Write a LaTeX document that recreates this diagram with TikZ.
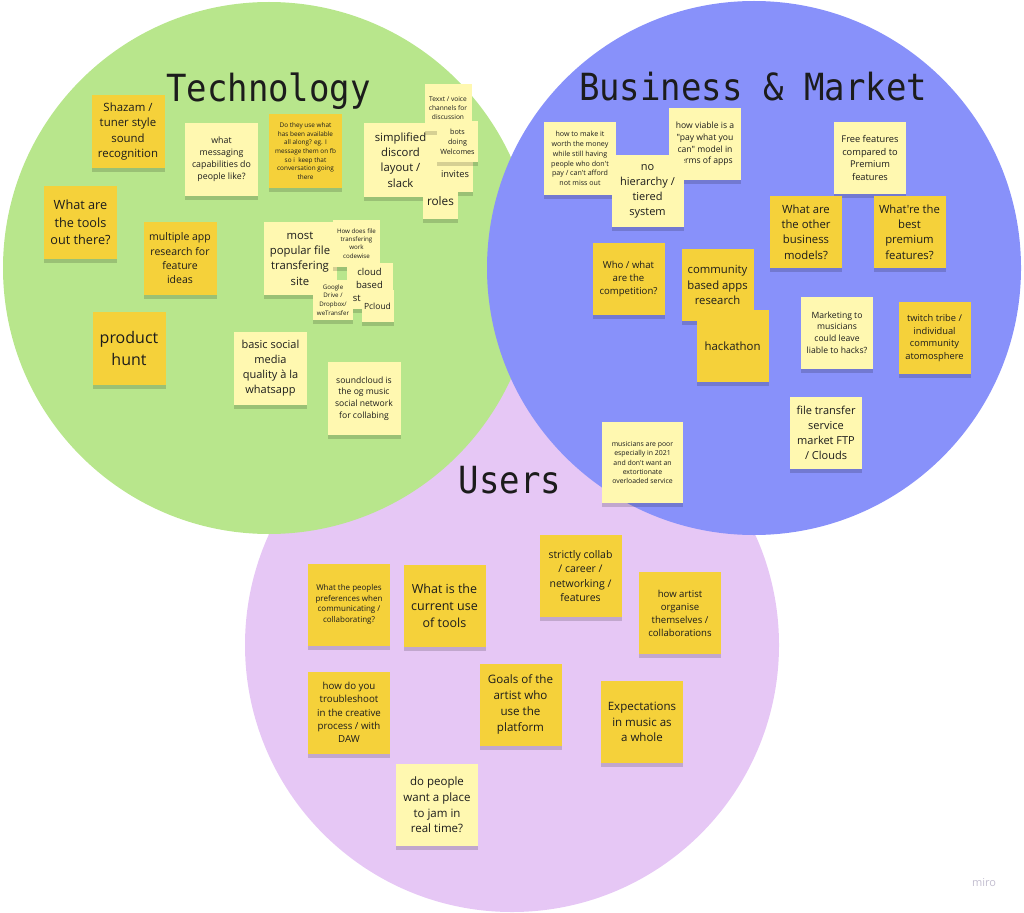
\documentclass[tikz,border=0pt]{standalone}
\usepackage{fontspec}
\usepackage{graphicx}
\usepackage{tikz}
\usetikzlibrary{shadows}
\newfontfamily\notefont{Open Sans}
\newfontfamily\headfont{DejaVu Sans Mono}
\definecolor{techgreen}{HTML}{B8E68C}
\definecolor{bizblue}{HTML}{8891FA}
\definecolor{userpurple}{HTML}{E6C7F5}
\definecolor{noteyellow}{HTML}{F5D13A}
\definecolor{notepale}{HTML}{FFF8B0}
\definecolor{ink}{HTML}{1C1C1C}
\definecolor{mirogray}{HTML}{C2BDCF}
\newcommand{\nsz}[2]{\notefont\fontsize{#1pt}{#2pt}\selectfont}

\begin{document}
\begin{tikzpicture}[x=1pt,y=-1pt,
  note/.style={minimum width=#1pt,minimum height=#1pt,inner sep=0pt,align=center,text=ink,
    drop shadow={shadow xshift=0pt,shadow yshift=-4pt,opacity=0.16,fill=black}},
  yel/.style={note=#1,fill=noteyellow},
  pale/.style={note=#1,fill=notepale},
  headline/.style={anchor=base,text=ink,font=\headfont\fontsize{34pt}{34pt}\selectfont}]
\useasboundingbox (0,0) rectangle (1024,912);
\fill[userpurple] (512,645) circle[radius=267pt];
\fill[techgreen] (269,268) circle[radius=266pt];
\fill[bizblue] (754,268) circle[radius=267pt];
\node[headline] (techtitle) at (268.5,102) {\scalebox{1}[1.1]{Technology}};
\node[headline] (biztitle) at (753,101) {\scalebox{1}[1.1]{Business \& Market}};
\node[headline] (usertitle) at (510,493) {\scalebox{1}[1.1]{Users}};
% technology
\node[yel=73,font=\nsz{11.4}{15.5}] (shazam) at (128,131.5) {Shazam /\\tuner style\\sound\\recognition};
\node[yel=73,font=\nsz{12.7}{17.3}] (tools) at (80.5,222.5) {What are\\the tools\\out there?};
\node[pale=73,font=\nsz{8.8}{12}] (messaging) at (221.5,159.5) {what\\messaging\\capabilities do\\people like?};
\node[yel=73,font=\nsz{10.5}{14.3}] (multiapp) at (180,258.5) {multiple app\\research for\\feature\\ideas};
\node[yel=73,font=\nsz{16}{21.7}] (hunt) at (129,348.5) {product\\hunt};
\node[yel=73,font=\nsz{6.4}{8.7}] (alongfb) at (305.5,151) {Do they use what\\has been available\\all along? eg. I\\message them on fb\\so i~ keep that\\conversation going\\there};
\node[pale=73,font=\nsz{11.3}{15.3}] (discord) at (400.5,160) {simplified\\discord\\layout /\\slack};
\node[pale=47,font=\nsz{6.6}{9}] (channels) at (448,108) {Texxt / voice\\channels for\\discussion};
\node[pale=36,font=\nsz{9.3}{12}] (invites) at (455,174) {invites};
\node[pale=41,font=\nsz{7.2}{9.7}] (bots) at (457.5,142) {bots\\doing\\Welcomes};
\node[pale=35,font=\nsz{11.8}{15}] (roles) at (440.5,201) {roles};
\node[pale=73,font=\nsz{11.3}{15.3}] (popular) at (300,258.5) {most\\popular file\\transfering\\site};
\node[pale=47,font=\nsz{6.2}{8.3}] (codewise) at (356.5,243.5) {How does file\\transfering\\work\\codewise};
\node[pale=46,font=\nsz{9.5}{12.8}] (cloud) at (369.5,286) {cloud\\based\\st\phantom{orage}};
\node[pale=40,font=\nsz{6.2}{8.7}] (gdrive) at (333,300) {Google\\Drive /\\Dropbox/\\weTransfer};
\node[pale=32,font=\nsz{8.5}{11}] (pcloud) at (377.5,306) {Pcloud};
\node[pale=73,font=\nsz{11}{15}] (whatsapp) at (270.5,368.5) {basic social\\media\\quality à la\\whatsapp};
\node[pale=73,font=\nsz{8.6}{11.7}] (soundcloud) at (364,398.5) {soundcloud is\\the og music\\social network\\for collabing};
% business & market
\node[pale=72,font=\nsz{7.1}{9.7}] (worth) at (580,158.5) {how to make it\\worth the money\\while still having\\people who don't\\pay / can't afford\\not miss out};
\node[pale=72,font=\nsz{8.6}{11.7}] (viable) at (705,144) {how viable is a\\"pay what you\\can" model in\\terms of apps};
\node[pale=72,font=\nsz{11}{15}] (tiered) at (647.5,191) {no\\hierarchy /\\tiered\\system};
\node[yel=72,font=\nsz{9.6}{13}] (competition) at (628.5,279) {Who / what\\are the\\competition?};
\node[yel=72,font=\nsz{11.3}{15.3}] (community) at (717.5,285) {community\\based apps\\research};
\node[yel=72,font=\nsz{11.4}{15}] (hackathon) at (732.5,346) {hackathon};
\node[pale=72,font=\nsz{9.3}{12.7}] (freefeat) at (870,158) {Free features\\compared to\\Premium\\features};
\node[yel=72,font=\nsz{11.3}{15.3}] (models) at (806,232) {What are\\the other\\business\\models?};
\node[yel=72,font=\nsz{11.3}{15.3}] (premium) at (909.5,232) {What're the\\best\\premium\\features?};
\node[pale=72,font=\nsz{8.6}{11.7}] (hacks) at (837,332.5) {Marketing to\\musicians\\could leave\\liable to hacks?};
\node[yel=72,font=\nsz{9.3}{12.7}] (twitch) at (934.5,338) {twitch tribe /\\individual\\community\\atomosphere};
\node[pale=81,font=\nsz{6.9}{9.3}] (poor) at (642.5,462.5) {musicians are poor\\especially in 2021\\and don't want an\\extortionate\\overloaded service};
\node[pale=72,font=\nsz{11}{15}] (ftp) at (826,432.5) {file transfer\\service\\market FTP\\/ Clouds};
% users
\node[yel=82,font=\nsz{8}{10.8}] (preferences) at (349,604.5) {What the peoples\\preferences when\\communicating /\\collaborating?};
\node[yel=82,font=\nsz{12.5}{17}] (currentuse) at (444.5,605.5) {What is the\\current use\\of tools};
\node[yel=82,font=\nsz{10.5}{14.3}] (strictly) at (580.5,576) {strictly collab\\/ career /\\networking /\\features};
\node[yel=82,font=\nsz{9.6}{13}] (organise) at (680,613) {how artist\\organise\\themselves /\\collaborations};
\node[yel=82,font=\nsz{9.7}{13.2}] (troubleshoot) at (349,712.5) {how do you\\troubleshoot\\in the creative\\process / with\\DAW};
\node[yel=82,font=\nsz{11.6}{15.8}] (goals) at (520.5,704.5) {Goals of the\\artist who\\use the\\platform};
\node[yel=82,font=\nsz{11.5}{15.7}] (expectations) at (642,722) {Expectations\\in music as\\a whole};
\node[pale=82,font=\nsz{11.5}{15.7}] (jam) at (437,805) {do people\\want a place\\to jam in\\real time?};
\node[text=mirogray,font=\nsz{11}{11}] (miro) at (984,883) {miro};
\end{tikzpicture}
\end{document}
